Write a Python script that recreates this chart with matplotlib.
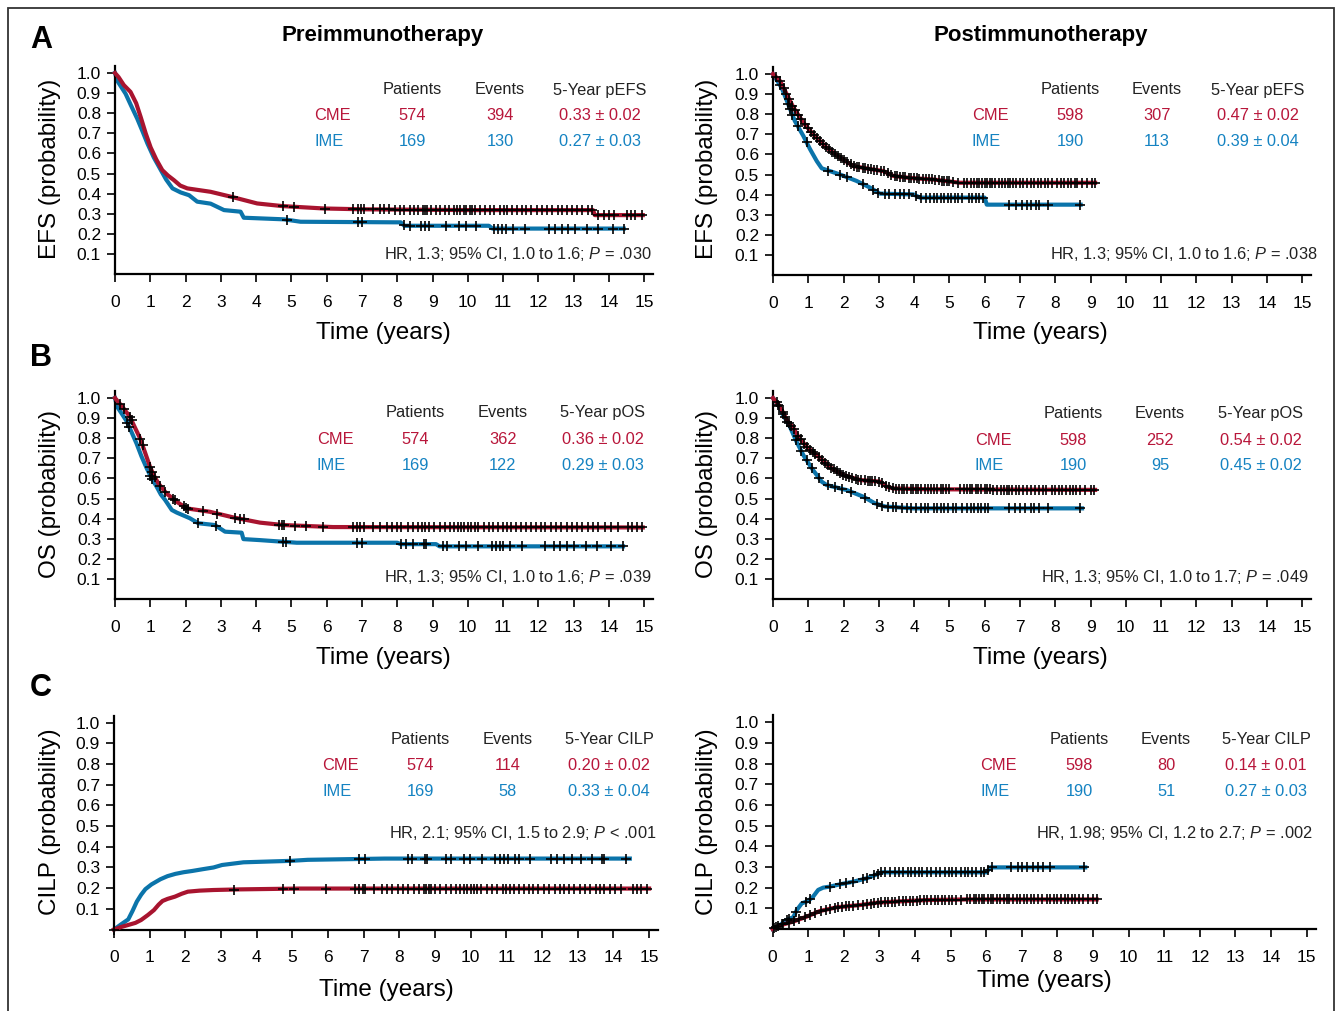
import numpy as np
import matplotlib
matplotlib.use("Agg")
import matplotlib.pyplot as plt
from matplotlib.patches import Rectangle

plt.rcParams['font.family'] = ['Liberation Sans', 'DejaVu Sans']
plt.rcParams['mathtext.fontset'] = 'custom'
plt.rcParams['mathtext.rm'] = 'Liberation Sans'
plt.rcParams['mathtext.it'] = 'Liberation Sans:italic'

W, H = 1341, 1011
RED_LINE, BLUE_LINE = '#a8142f', '#0b74aa'
RED_TXT, BLUE_TXT = '#b8163a', '#1583c2'

# ---- A: EFS, preimmunotherapy ----
efs_pre_cme_t = [0, 0.1, 0.25, 0.44, 0.6, 0.73, 0.87, 1.01, 1.17, 1.34, 1.5, 1.67, 1.85, 2.05, 2.71, 3.37,
                 4.03, 4.74, 5.92, 7.0, 10.0, 13.55, 13.6, 14.96]
efs_pre_cme_s = [1.0, 0.98, 0.94, 0.906, 0.85, 0.78, 0.70, 0.63, 0.57, 0.517, 0.49, 0.467, 0.44, 0.426, 0.409,
                 0.381, 0.351, 0.338, 0.326, 0.322, 0.318, 0.318, 0.293, 0.293]
efs_pre_ime_t = [0, 0.07, 0.30, 0.45, 0.63, 0.78, 0.92, 1.1, 1.30, 1.45, 1.63, 1.86, 2.10, 2.33, 2.71, 3.09,
                 3.56, 3.65, 4.79, 5.26, 8.1, 8.2, 10.6, 10.7, 14.42]
efs_pre_ime_s = [1.0, 0.96, 0.897, 0.84, 0.773, 0.71, 0.649, 0.58, 0.517, 0.47, 0.426, 0.406, 0.392, 0.36,
                 0.35, 0.318, 0.31, 0.28, 0.272, 0.26, 0.257, 0.24, 0.24, 0.226, 0.226]
efs_pre_cme_cens = [3.35, 4.75, 5.08, 5.95, 6.75, 6.88, 6.98, 7.05, 7.3, 7.5, 7.62, 7.78, 7.95, 8.08, 8.2, 8.35,
                    8.48, 8.6, 8.72, 8.78, 8.85, 8.95, 9.1, 9.22, 9.35, 9.48, 9.6, 9.7, 9.78, 9.88, 9.95, 10.05,
                    10.12, 10.2, 10.35, 10.5, 10.62, 10.75, 10.9, 11.02, 11.12, 11.25, 11.4, 11.55, 11.65, 11.8,
                    11.95, 12.1, 12.25, 12.4, 12.55, 12.68, 12.8, 12.95, 13.1, 13.25, 13.4, 13.52, 13.7, 13.85,
                    14.0, 14.15, 14.5, 14.62, 14.75, 14.95]
efs_pre_ime_cens = [4.88, 6.89, 7.01, 8.18, 8.36, 8.67, 8.79, 8.91, 9.39, 9.76, 9.94, 10.24, 10.73, 10.85, 10.97,
                    11.09, 11.27, 11.63, 12.30, 12.48, 12.66, 12.84, 13.03, 13.39, 13.69, 14.11, 14.42]

# ---- A: EFS, postimmunotherapy ----
efs_post_cme_t = [0, 0.2, 0.39, 0.58, 0.86, 1.14, 1.52, 1.90, 2.28, 2.66, 3.13, 3.41, 3.88, 4.55, 5.30, 9.13]
efs_post_cme_s = [1.0, 0.965, 0.899, 0.833, 0.758, 0.70, 0.634, 0.584, 0.542, 0.53, 0.517, 0.493, 0.483, 0.475,
                  0.459, 0.459]
efs_post_ime_t = [0, 0.25, 0.43, 0.62, 0.86, 1.05, 1.24, 1.38, 1.90, 2.37, 2.75, 3.03, 3.98, 4.17, 5.59, 6.0,
                  6.06, 8.72]
efs_post_ime_s = [1.0, 0.93, 0.85, 0.766, 0.692, 0.626, 0.567, 0.531, 0.50, 0.468, 0.435, 0.405, 0.401, 0.385,
                  0.385, 0.385, 0.35, 0.35]
efs_post_cme_cens = [0.08, 0.2, 0.3, 0.38, 0.45, 0.55, 0.62, 0.72, 0.8, 0.9, 1.0, 1.08, 1.15, 1.25, 1.32, 1.42, 1.5,
                     1.58, 1.68, 1.75, 1.85, 1.92, 2.0, 2.1, 2.2, 2.3, 2.38, 2.45, 2.55, 2.62, 2.7, 2.78, 2.85,
                     2.95, 3.05, 3.15, 3.25, 3.35, 3.45, 3.52, 3.6, 3.68, 3.75, 3.85, 3.92, 4.0, 4.08, 4.15, 4.25,
                     4.35, 4.42, 4.5, 4.6, 4.7, 4.78, 4.85, 4.92, 5.0, 5.1, 5.25, 5.4, 5.5, 5.6, 5.7, 5.78, 5.85,
                     5.92, 6.0, 6.08, 6.15, 6.22, 6.3, 6.4, 6.5, 6.58, 6.65, 6.72, 6.8, 6.9, 7.0, 7.1, 7.2, 7.3,
                     7.4, 7.5, 7.6, 7.7, 7.8, 7.92, 8.05, 8.15, 8.25, 8.35, 8.45, 8.55, 8.62, 8.75, 8.9, 9.05, 9.12]
efs_post_ime_cens = [0.2, 0.43, 0.48, 0.55, 0.7, 0.95, 1.57, 1.9, 2.09, 2.56, 2.84, 2.98, 3.17, 3.3, 3.45, 3.6,
                     3.72, 3.85, 4.05, 4.2, 4.35, 4.45, 4.55, 4.65, 4.75, 4.85, 4.95, 5.05, 5.15, 5.25, 5.35, 5.55,
                     5.65, 5.75, 5.85, 5.95, 6.7, 6.9, 7.05, 7.2, 7.3, 7.45, 7.55, 7.8, 8.7]

# ---- B: OS, preimmunotherapy ----
os_pre_cme_t = [0, 0.12, 0.24, 0.42, 0.56, 0.71, 0.85, 0.99, 1.1, 1.23, 1.46, 1.75, 2.03, 2.69, 3.35, 4.11,
                4.77, 6.18, 14.96]
os_pre_cme_s = [1.0, 0.975, 0.949, 0.907, 0.855, 0.80, 0.73, 0.659, 0.615, 0.575, 0.525, 0.484, 0.451, 0.434,
                0.406, 0.380, 0.368, 0.358, 0.356]
os_pre_ime_t = [0, 0.06, 0.2, 0.34, 0.47, 0.61, 0.75, 0.90, 1.04, 1.18, 1.30, 1.42, 1.61, 1.75, 2.12, 2.36,
                2.83, 3.12, 3.59, 3.64, 4.11, 5.15, 8.0, 8.1, 9.1, 9.2, 14.4]
os_pre_ime_s = [1.0, 0.957, 0.92, 0.882, 0.83, 0.774, 0.71, 0.65, 0.60, 0.559, 0.52, 0.493, 0.443, 0.43, 0.402,
                0.377, 0.368, 0.335, 0.330, 0.298, 0.293, 0.28, 0.28, 0.273, 0.273, 0.262, 0.262]
os_pre_cme_cens = [0.15, 0.25, 0.42, 0.47, 0.72, 0.78, 1.0, 1.06, 1.12, 1.28, 1.42, 1.65, 1.7, 1.95, 2.02, 2.08,
                   2.5, 2.9, 3.4, 3.55, 3.65, 4.65, 4.72, 4.8, 5.1, 5.4, 5.9, 6.75, 6.85, 6.95, 7.05, 7.3, 7.5,
                   7.7, 7.85, 8.0, 8.12, 8.3, 8.45, 8.6, 8.7, 8.8, 8.9, 9.05, 9.2, 9.35, 9.5, 9.6, 9.72, 9.82,
                   9.9, 10.0, 10.1, 10.2, 10.3, 10.45, 10.6, 10.72, 10.85, 11.0, 11.1, 11.22, 11.38, 11.5, 11.65,
                   11.8, 11.92, 12.08, 12.2, 12.35, 12.5, 12.65, 12.8, 12.95, 13.1, 13.25, 13.4, 13.55, 13.7,
                   13.9, 14.05, 14.25, 14.55, 14.65, 14.8, 14.95]
os_pre_ime_cens = [0.35, 0.4, 1.0, 1.05, 2.35, 2.85, 4.75, 4.85, 6.85, 7.0, 8.1, 8.25, 8.45, 8.75, 8.82, 9.3,
                   9.4, 9.75, 9.95, 10.3, 10.7, 10.8, 10.9, 11.0, 11.2, 11.55, 12.2, 12.45, 12.6, 12.8, 13.0,
                   13.35, 13.65, 14.05, 14.4]

# ---- B: OS, postimmunotherapy ----
os_post_cme_t = [0, 0.2, 0.39, 0.58, 0.72, 0.95, 1.29, 1.62, 1.99, 2.47, 3.03, 3.22, 3.41, 4.36, 9.13]
os_post_cme_s = [1.0, 0.957, 0.891, 0.85, 0.807, 0.758, 0.708, 0.655, 0.617, 0.592, 0.584, 0.559, 0.55, 0.546,
                 0.543]
os_post_ime_t = [0, 0.15, 0.29, 0.48, 0.67, 0.86, 1.1, 1.38, 1.52, 2.09, 2.56, 2.89, 3.18, 3.98, 8.76]
os_post_ime_s = [1.0, 0.965, 0.915, 0.857, 0.782, 0.716, 0.65, 0.584, 0.567, 0.542, 0.509, 0.476, 0.46, 0.451,
                 0.451]
os_post_cme_cens = [0.1, 0.18, 0.28, 0.35, 0.45, 0.52, 0.6, 0.7, 0.78, 0.88, 0.95, 1.05, 1.12, 1.2, 1.3, 1.38,
                    1.48, 1.55, 1.65, 1.72, 1.82, 1.9, 1.98, 2.08, 2.15, 2.25, 2.35, 2.42, 2.5, 2.6, 2.68, 2.75,
                    2.82, 2.9, 3.0, 3.1, 3.2, 3.3, 3.4, 3.5, 3.58, 3.65, 3.72, 3.8, 3.9, 3.98, 4.05, 4.12, 4.2,
                    4.3, 4.4, 4.48, 4.55, 4.65, 4.75, 4.82, 4.9, 5.0, 5.3, 5.4, 5.5, 5.58, 5.65, 5.75, 5.82, 5.9,
                    6.0, 6.08, 6.15, 6.25, 6.35, 6.45, 6.55, 6.62, 6.7, 6.78, 6.88, 6.98, 7.08, 7.2, 7.3, 7.42,
                    7.55, 7.65, 7.75, 7.9, 8.0, 8.1, 8.2, 8.3, 8.42, 8.5, 8.6, 8.7, 8.85, 9.0, 9.1]
os_post_ime_cens = [0.15, 0.28, 0.4, 0.65, 0.8, 0.95, 1.1, 1.3, 1.55, 1.75, 1.95, 2.2, 2.6, 2.95, 3.1, 3.25,
                    3.4, 3.5, 3.65, 3.8, 3.9, 4.05, 4.2, 4.3, 4.4, 4.55, 4.65, 4.75, 4.85, 4.95, 5.1, 5.2, 5.35,
                    5.5, 5.6, 5.7, 5.8, 5.9, 6.0, 6.1, 6.7, 6.85, 7.0, 7.15, 7.3, 7.4, 7.55, 7.8, 8.7]

# ---- C: CILP, preimmunotherapy ----
cilp_pre_cme_t = [0, 0.2, 0.4, 0.6, 0.76, 0.95, 1.12, 1.25, 1.36, 1.5, 1.71, 1.9, 2.07, 2.4, 2.79, 3.51, 5.18, 15.0]
cilp_pre_cme_s = [0, 0.012, 0.022, 0.032, 0.046, 0.07, 0.094, 0.12, 0.138, 0.148, 0.159, 0.173, 0.183, 0.188,
                  0.191, 0.194, 0.198, 0.198]
cilp_pre_ime_t = [0, 0.2, 0.4, 0.52, 0.64, 0.76, 0.88, 1.05, 1.30, 1.5, 1.72, 1.95, 2.19, 2.5, 2.79, 3.03, 3.63,
                  4.95, 5.43, 7.58, 14.46]
cilp_pre_ime_s = [0, 0.025, 0.049, 0.09, 0.135, 0.168, 0.195, 0.218, 0.243, 0.258, 0.269, 0.277, 0.283, 0.292,
                  0.30, 0.312, 0.325, 0.332, 0.337, 0.343, 0.343]
cilp_pre_cme_cens = [0.0, 3.35, 4.75, 5.05, 5.95, 6.75, 6.88, 6.98, 7.05, 7.3, 7.5, 7.65, 7.8, 7.95, 8.1, 8.25,
                     8.4, 8.55, 8.68, 8.75, 8.82, 8.9, 9.0, 9.15, 9.3, 9.45, 9.6, 9.7, 9.8, 9.9, 10.0, 10.08,
                     10.18, 10.3, 10.45, 10.6, 10.75, 10.9, 11.0, 11.1, 11.22, 11.35, 11.5, 11.62, 11.75, 11.9,
                     12.05, 12.2, 12.35, 12.5, 12.62, 12.75, 12.9, 13.05, 13.2, 13.35, 13.5, 13.62, 13.75, 13.9,
                     14.05, 14.2, 14.55, 14.65, 14.78, 14.95]
cilp_pre_ime_cens = [4.92, 6.86, 7.04, 8.24, 8.36, 8.72, 8.78, 9.32, 9.44, 9.80, 9.97, 10.33, 10.69, 10.81,
                     10.93, 11.05, 11.23, 11.35, 11.65, 12.25, 12.43, 12.61, 12.85, 13.09, 13.39, 13.69, 13.75,
                     14.34]

# ---- C: CILP, postimmunotherapy ----
cilp_post_cme_t = [0, 0.16, 0.58, 0.96, 1.33, 1.80, 2.46, 2.93, 3.39, 4.33, 5.45, 9.1]
cilp_post_cme_s = [0, 0.015, 0.036, 0.06, 0.087, 0.105, 0.116, 0.127, 0.132, 0.14, 0.143, 0.143]
cilp_post_ime_t = [0, 0.21, 0.39, 0.58, 0.68, 0.82, 1.0, 1.14, 1.28, 1.42, 1.61, 1.89, 2.27, 2.64, 2.88, 3.06,
                   6.01, 6.11, 8.78]
cilp_post_ime_s = [0, 0.019, 0.044, 0.057, 0.092, 0.124, 0.136, 0.157, 0.189, 0.2, 0.205, 0.216, 0.229, 0.245,
                   0.261, 0.274, 0.274, 0.298, 0.298]
cilp_post_cme_cens = [0.05, 0.15, 0.3, 0.45, 0.6, 0.75, 0.9, 1.05, 1.2, 1.35, 1.5, 1.62, 1.75, 1.85, 1.95, 2.05,
                      2.15, 2.25, 2.4, 2.55, 2.65, 2.75, 2.85, 2.95, 3.05, 3.15, 3.25, 3.35, 3.45, 3.55, 3.65,
                      3.75, 3.85, 3.95, 4.05, 4.15, 4.25, 4.35, 4.45, 4.55, 4.65, 4.75, 4.85, 4.95, 5.05, 5.15,
                      5.3, 5.45, 5.55, 5.65, 5.72, 5.8, 5.88, 5.95, 6.05, 6.12, 6.2, 6.3, 6.4, 6.5, 6.58, 6.65,
                      6.75, 6.85, 6.95, 7.05, 7.15, 7.25, 7.35, 7.45, 7.58, 7.7, 7.8, 7.9, 8.0, 8.1, 8.2, 8.3,
                      8.4, 8.5, 8.6, 8.72, 8.85, 9.0, 9.12]
cilp_post_ime_cens = [0.1, 0.25, 0.4, 0.45, 0.65, 0.95, 1.05, 1.6, 1.9, 2.05, 2.25, 2.55, 2.65, 2.85, 2.95, 3.05,
                      3.15, 3.3, 3.45, 3.55, 3.65, 3.8, 3.9, 4.0, 4.1, 4.2, 4.35, 4.45, 4.6, 4.7, 4.85, 4.95, 5.05,
                      5.15, 5.3, 5.4, 5.5, 5.6, 5.7, 5.85, 5.95, 6.05, 6.15, 6.7, 6.9, 7.0, 7.15, 7.3, 7.45, 7.6,
                      7.8, 8.75]

# table texts
groups = ['CME', 'IME']
patients_pre, patients_post = ['574', '169'], ['598', '190']
efs_pre_events, efs_pre_5y = ['394', '130'], ['0.33 ± 0.02', '0.27 ± 0.03']
efs_post_events, efs_post_5y = ['307', '113'], ['0.47 ± 0.02', '0.39 ± 0.04']
os_pre_events, os_pre_5y = ['362', '122'], ['0.36 ± 0.02', '0.29 ± 0.03']
os_post_events, os_post_5y = ['252', '95'], ['0.54 ± 0.02', '0.45 ± 0.02']
cilp_pre_events, cilp_pre_5y = ['114', '58'], ['0.20 ± 0.02', '0.33 ± 0.04']
cilp_post_events, cilp_post_5y = ['80', '51'], ['0.14 ± 0.01', '0.27 ± 0.03']
hr_texts = ['HR, 1.3; 95% CI, 1.0 to 1.6; $P$ = .030', 'HR, 1.3; 95% CI, 1.0 to 1.6; $P$ = .038',
            'HR, 1.3; 95% CI, 1.0 to 1.6; $P$ = .039', 'HR, 1.3; 95% CI, 1.0 to 1.7; $P$ = .049',
            'HR, 2.1; 95% CI, 1.5 to 2.9; $P$ < .001', 'HR, 1.98; 95% CI, 1.2 to 2.7; $P$ = .002']


def fx(x):
    return x / W


def fy(y):
    return 1 - y / H


def ftext(x, y, s, **kw):
    fig.text(fx(x), fy(y), s, **kw)


def draw_panel(rect, cme_t, cme_s, ime_t, ime_s, cme_c, ime_c):
    l, b, w, h = rect
    ax = fig.add_axes([fx(l), fy(b), fx(w), h / H])
    ax.plot(ime_t, ime_s, color=BLUE_LINE, lw=3.0, zorder=2, clip_on=False)
    ax.plot(cme_t, cme_s, color=RED_LINE, lw=3.0, zorder=3, clip_on=False)
    ax.plot(cme_c, np.interp(cme_c, cme_t, cme_s), ls='none', marker='+', ms=7.5, mew=1.2,
            color='black', zorder=4, clip_on=False)
    ax.plot(ime_c, np.interp(ime_c, ime_t, ime_s), ls='none', marker='+', ms=7.5, mew=1.2,
            color='black', zorder=4, clip_on=False)
    ax.set_xlim(0, 15.25)
    ax.set_ylim(0, 1.035)
    ax.set_xticks(range(16))
    ax.set_yticks(np.arange(1, 11) / 10)
    ax.set_yticklabels([f'{v / 10:.1f}' for v in range(1, 11)])
    ax.spines['top'].set_visible(False)
    ax.spines['right'].set_visible(False)
    for sp in ('left', 'bottom'):
        ax.spines[sp].set_linewidth(1.6)
    ax.tick_params(axis='y', length=6, width=1.2, pad=4, labelsize=12.5)
    ax.tick_params(axis='x', length=6, width=1.2, pad=9, labelsize=12.5)
    ax.patch.set_alpha(0)
    return ax


def draw_table(x_grp, x_pat, x_ev, x_5y, y_head, y_row, dy, head5, pats, evs, fives, hr, x_hr, y_hr):
    fs = 11.8
    ftext(x_pat, y_head, 'Patients', ha='center', va='center', fontsize=fs, color='#222')
    ftext(x_ev, y_head, 'Events', ha='center', va='center', fontsize=fs, color='#222')
    ftext(x_5y, y_head, head5, ha='center', va='center', fontsize=fs, color='#222')
    for i, col in enumerate([RED_TXT, BLUE_TXT]):
        yy = y_row + i * dy
        ftext(x_grp, yy, groups[i], ha='left', va='center', fontsize=fs, color=col)
        ftext(x_pat, yy, pats[i], ha='center', va='center', fontsize=fs, color=col)
        ftext(x_ev, yy, evs[i], ha='center', va='center', fontsize=fs, color=col)
        ftext(x_5y, yy, fives[i], ha='center', va='center', fontsize=fs, color=col)
    ftext(x_hr, y_hr, hr, ha='right', va='center', fontsize=fs, color='#222')


fig = plt.figure(figsize=(W / 100, H / 100), dpi=100)
fig.add_artist(Rectangle((fx(8), -0.02), fx(1326), 1 - 8 / H + 0.02, transform=fig.transFigure,
                         fill=False, lw=1.3, edgecolor='#333333'))

# panels (left px, bottom px, width px, height px)
draw_panel((115, 274, 538, 208), efs_pre_cme_t, efs_pre_cme_s, efs_pre_ime_t, efs_pre_ime_s,
           efs_pre_cme_cens, efs_pre_ime_cens)
draw_panel((773, 275, 538, 208), efs_post_cme_t, efs_post_cme_s, efs_post_ime_t, efs_post_ime_s,
           efs_post_cme_cens, efs_post_ime_cens)
draw_panel((115, 599, 538, 208), os_pre_cme_t, os_pre_cme_s, os_pre_ime_t, os_pre_ime_s,
           os_pre_cme_cens, os_pre_ime_cens)
draw_panel((773, 599, 538, 208), os_post_cme_t, os_post_cme_s, os_post_ime_t, os_post_ime_s,
           os_post_cme_cens, os_post_ime_cens)
draw_panel((114, 929.5, 544, 214), cilp_pre_cme_t, cilp_pre_cme_s, cilp_pre_ime_t, cilp_pre_ime_s,
           cilp_pre_cme_cens, cilp_pre_ime_cens)
draw_panel((772.6, 929, 543, 214), cilp_post_cme_t, cilp_post_cme_s, cilp_post_ime_t, cilp_post_ime_s,
           cilp_post_cme_cens, cilp_post_ime_cens)

# tables
draw_table(314, 412, 500, 600, 90, 115, 26, '5-Year pEFS', patients_pre, efs_pre_events, efs_pre_5y,
           hr_texts[0], 652, 254)
draw_table(972, 1070, 1157, 1258, 90, 115, 26, '5-Year pEFS', patients_post, efs_post_events, efs_post_5y,
           hr_texts[1], 1318, 254)
draw_table(317, 415, 503, 603, 413, 439, 26, '5-Year pOS', patients_pre, os_pre_events, os_pre_5y,
           hr_texts[2], 652, 577)
draw_table(975, 1073, 1160, 1261, 414, 440, 26, '5-Year pOS', patients_post, os_post_events, os_post_5y,
           hr_texts[3], 1309, 577)
draw_table(322, 420, 508, 609, 740, 766, 26, '5-Year CILP', patients_pre, cilp_pre_events, cilp_pre_5y,
           hr_texts[4], 656, 833)
draw_table(980, 1079, 1166, 1266, 740, 766, 26, '5-Year CILP', patients_post, cilp_post_events, cilp_post_5y,
           hr_texts[5], 1313, 833)

# titles and panel letters
ftext(383, 35, 'Preimmunotherapy', ha='center', va='center', fontsize=16, fontweight='bold')
ftext(1041, 35, 'Postimmunotherapy', ha='center', va='center', fontsize=16, fontweight='bold')
for letter, yy in zip(['A', 'B', 'C'], [40, 358, 688]):
    ftext(41, yy, letter, ha='center', va='center', fontsize=22, fontweight='bold')

# axis labels
ylabels = ['EFS (probability)', 'OS (probability)', 'CILP (probability)']
for lab, yy in zip(ylabels, [169, 494, 822]):
    for xx in (50, 707):
        ftext(xx, yy, lab, ha='center', va='center', rotation=90, fontsize=17.5)
for xx, yy in [(383, 333), (1040, 333), (383, 658), (1040, 658), (386, 990), (1044, 981)]:
    ftext(xx, yy, 'Time (years)', ha='center', va='center', fontsize=17.5)

fig.savefig('out.png', dpi=100)
